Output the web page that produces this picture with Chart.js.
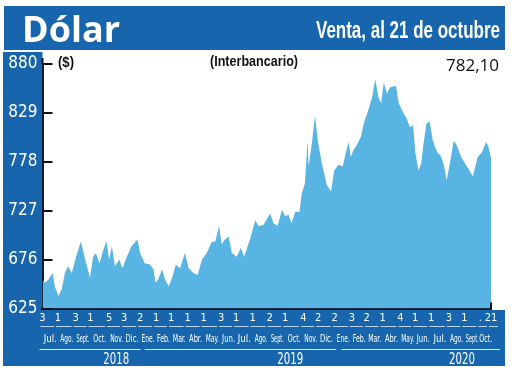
<!DOCTYPE html>
<html lang="es">
<head>
<meta charset="utf-8">
<title>Dólar</title>
<script src="https://cdn.jsdelivr.net/npm/chart.js@4.4.1/dist/chart.umd.min.js"></script>
<style>
html,body{margin:0;padding:0;background:#fff;}
canvas{display:block;}
</style>
</head>
<body>
<canvas id="dolar" width="520" height="370"></canvas>
<script>
// Dólar interbancario, venta (pesos chilenos)

// días desde el 3 de julio de 2018
const dias = [0,5,11,19,23,30,36,42,48,55,63,72,80,89,95,100,107,114,120,125,130,136,144,150,158,167,178,183,192,202,208,212,217,224,230,237,244,250,258,267,274,283,291,299,308,317,324,331,336,342,349,355,364,372,378,389,399,405,414,427,433,441,449,455,461,467,474,482,486,492,497,499,505,511,517,524,533,541,547,555,563,569,574,578,583,589,597,603,611,618,624,630,635,640,646,652,663,668,674,683,689,695,699,705,710,714,720,726,732,740,746,752,758,765,771,777,785,796,807,816,824,832,836,841];
const valores = [655,652,655,662,648,638,645,662,669,662,679,695,676,657,679,683,672,686,695,676,690,669,676,667,679,690,697,683,672,671,666,652,655,666,655,648,659,671,667,683,667,662,660,676,683,694,695,711,692,697,700,683,679,688,679,697,717,711,712,724,714,711,728,721,723,714,726,726,745,755,800,773,797,826,797,776,754,747,769,775,773,788,799,783,790,795,804,819,832,845,864,845,839,861,849,856,857,839,832,823,814,816,788,769,776,795,818,820,800,788,785,776,759,780,800,795,783,773,763,783,788,799,794,782.1];

const yTicks = [625,676,727,778,829,880];

const tickFechas = ['2018-07-03','2018-08-01','2018-09-03','2018-10-01','2018-11-05','2018-12-03',
  '2019-01-02','2019-02-01','2019-03-01','2019-04-01','2019-05-01','2019-06-03','2019-07-01','2019-08-01',
  '2019-09-02','2019-10-01','2019-11-04','2019-12-02','2020-01-02','2020-02-03','2020-03-02','2020-04-01',
  '2020-05-04','2020-06-01','2020-07-01','2020-08-03','2020-09-01','2020-10-01','2020-10-21'];
const tickDias = ['3','1','3','1','5','3','2','1','1','1','1','3','1','1','2','1','4','2','2','3','2','1','4','1','1','3','1','.','21'];
const meses = ['Jul.','Ago.','Sept.','Oct.','Nov.','Dic.',
  'Ene.','Feb.','Mar.','Abr.','May.','Jun.','Jul.','Ago.','Sept.','Oct.','Nov.','Dic.',
  'Ene.','Feb.','Mar.','Abr.','May.','Jun.','Jul.','Ago.','Sept.','Oct.'];
const anios = ['2018','2019','2020'];

const AZUL = '#1765ad';
const CELESTE = '#57b4e3';
const NARROW = '"Liberation Sans Narrow", "DejaVu Sans Condensed", Roboto, sans-serif';

const inicio = Date.UTC(2018, 6, 3);
function dia(f) {
  const [a, m, d] = f.split('-').map(Number);
  return Math.round((Date.UTC(a, m - 1, d) - inicio) / 864e5);
}
const tickX = tickFechas.map(dia);

function texto(ctx, t, x, y, font, color, align, maxW) {
  ctx.font = font;
  ctx.fillStyle = color;
  ctx.textAlign = align;
  ctx.textBaseline = 'alphabetic';
  if (maxW) ctx.fillText(t, x, y, maxW); else ctx.fillText(t, x, y);
}

const marco = {
  id: 'marco',
  beforeDraw(chart) {
    const { ctx, chartArea: a } = chart;
    ctx.save();
    ctx.fillStyle = '#fff';
    ctx.fillRect(0, 0, chart.width, chart.height);
    ctx.fillStyle = AZUL;
    ctx.fillRect(4, 6, 501, 44);
    ctx.fillRect(3, 52, a.left - 3, 314);
    ctx.fillRect(3, a.bottom + 1.5, 502, 56);
    ctx.restore();
  },
  afterDraw(chart) {
    const { ctx, chartArea: a, scales: { x, y } } = chart;
    ctx.save();

    // cabecera
    texto(ctx, 'Dólar', 22, 42, 'bold 36px "Open Sans", sans-serif', '#fff', 'left');
    texto(ctx, 'Venta, al 21 de octubre', 500, 38, 'bold 24px "Liberation Sans", sans-serif', '#fff', 'right', 184);
    texto(ctx, '($)', 58, 67, 'bold 15px "Liberation Sans", sans-serif', '#111', 'left', 16);
    texto(ctx, '(Interbancario)', 210, 66, 'bold 15px "Liberation Sans", sans-serif', '#111', 'left', 88);
    texto(ctx, '782,10', 499, 71, '17px "Open Sans", sans-serif', '#111', 'right', 54);

    // marcas del eje y hacia adentro
    ctx.strokeStyle = '#111';
    ctx.lineWidth = 2;
    y.ticks.forEach(t => {
      const py = Math.round(y.getPixelForValue(t.value));
      ctx.beginPath();
      ctx.moveTo(a.left, py);
      ctx.lineTo(a.left + 10, py);
      ctx.stroke();
    });
    ctx.beginPath();
    ctx.moveTo(a.left, a.top);
    ctx.lineTo(a.left, a.top - 6);
    ctx.stroke();
    ctx.beginPath();
    ctx.moveTo(a.right, a.bottom);
    ctx.lineTo(a.right, a.bottom - 6);
    ctx.stroke();

    // subrayado de cada mes y nombres
    ctx.strokeStyle = '#b9d3ec';
    ctx.lineWidth = 1;
    const px = tickX.map(v => x.getPixelForValue(v));
    px.forEach((p, i) => {
      const fin = i < px.length - 1 ? px[i + 1] - 4 : p + 7;
      ctx.beginPath();
      ctx.moveTo(p - 2, 326.5);
      ctx.lineTo(fin, 326.5);
      ctx.stroke();
    });
    meses.forEach((m, i) => {
      const cx = (px[i] + px[i + 1]) / 2;
      texto(ctx, m, cx, 342, '11px ' + NARROW, '#fff', 'center', 13);
    });

    // años
    const b1 = x.getPixelForValue(dia('2019-01-01'));
    const b2 = x.getPixelForValue(dia('2020-01-01'));
    const tramos = [[px[0] - 3, b1 + 1], [b1 + 5, b2 + 2], [b2 + 7, 500]];
    ctx.strokeStyle = '#d6e6f5';
    tramos.forEach(([s, e], i) => {
      ctx.beginPath();
      ctx.moveTo(s, 349.5);
      ctx.lineTo(e, 349.5);
      ctx.stroke();
      texto(ctx, anios[i], s + (e - s) * 0.76, 364, '15px ' + NARROW, '#fff', 'center', 26);
    });
    ctx.restore();
  }
};

new Chart(document.getElementById('dolar'), {
  type: 'line',
  data: {
    datasets: [{
      data: dias.map((d, i) => ({ x: d, y: valores[i] })),
      borderWidth: 0,
      borderColor: CELESTE,
      backgroundColor: CELESTE,
      fill: 'start',
      pointRadius: 0,
      tension: 0
    }]
  },
  options: {
    responsive: false,
    animation: false,
    events: [],
    layout: { padding: { top: 64, right: 29, left: 0, bottom: 0 } },
    plugins: { legend: { display: false }, tooltip: { enabled: false } },
    scales: {
      x: {
        type: 'linear',
        min: 0,
        max: dia('2020-10-21'),
        afterFit: s => { s.height = 61.5; },
        afterBuildTicks: s => { s.ticks = tickX.map(v => ({ value: v })); },
        grid: { display: false, drawTicks: false },
        border: { display: true, color: '#15192b', width: 3 },
        ticks: {
          autoSkip: false,
          maxRotation: 0,
          padding: 3,
          color: '#fff',
          font: { family: NARROW, size: 11 },
          callback: (v, i) => tickDias[i]
        }
      },
      y: {
        min: 625,
        max: 880,
        afterFit: s => { s.width = 42.5; },
        afterBuildTicks: s => { s.ticks = yTicks.map(v => ({ value: v })); },
        grid: { display: false, drawTicks: false },
        border: { display: true, color: '#15192b', width: 2 },
        ticks: {
          padding: 5,
          color: '#fff',
          font: { family: NARROW, size: 17 },
          callback: v => String(v)
        }
      }
    }
  },
  plugins: [marco]
});
</script>
</body>
</html>
